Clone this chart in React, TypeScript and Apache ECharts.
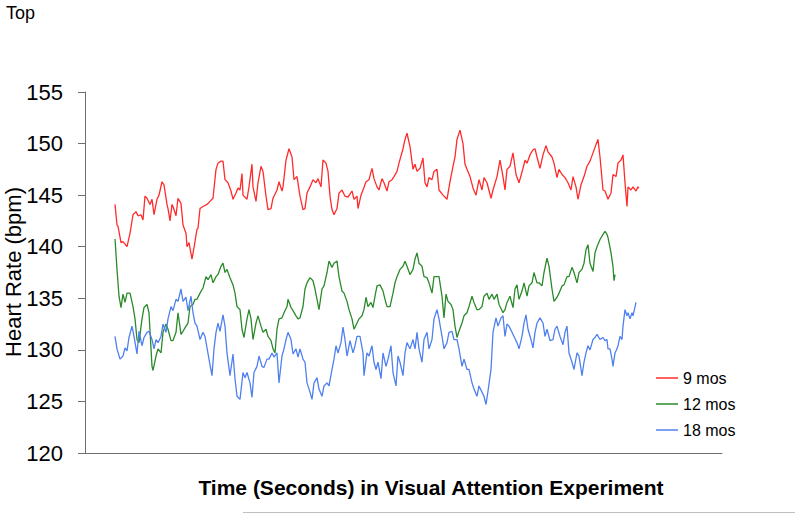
import React, { useEffect, useRef } from "react";
import * as echarts from "echarts";

// Time position (arbitrary seconds units along the experiment)
const t9 = [30,32,33,36,38,42,45,48,51,53,56,58,60,62,65,67,69,72,74,77,79,82,83,85,87,88,91,93,96,98,101,102,104,107,109,112,113,
  115,118,122,125,128,131,133,136,138,140,143,146,148,151,153,155,157,158,162,164,167,168,171,173,176,178,181,183,186,188,192,194,197,198,201,204,207,209,212,
  215,218,220,222,225,228,231,233,236,238,241,243,245,247,249,252,254,257,260,263,267,269,272,273,276,278,281,284,287,289,292,294,297,299,302,304,307,309,312,314,
  318,320,322,325,328,330,332,335,338,340,342,344,347,349,352,354,358,362,365,368,370,372,375,378,380,382,385,388,391,394,397,399,402,406,408,412,
  415,418,420,422,425,428,431,434,438,440,442,445,448,450,452,455,458,461,463,467,469,472,474,477,480,483,486,488,491,493,496,499,502,
  505,508,511,513,515,518,520,523,526,528,531,533,536,538,540,542,543,546,548,551,553,554];
const hr9 = [144.1,142.1,142,140.4,140.5,140.0,141.3,143.1,143.4,143,143.1,142.6,144.9,144.7,144.1,144.6,143.1,144.6,145.0,146.3,146.0,144.1,143.7,142.5,144.1,143.9,143,144.7,144.2,142.1,141.3,140.0,140.4,138.8,139.9,141.7,141.8,
  143.7,143.9,144.1,144.4,144.7,147.5,148.1,148.3,148.3,146.5,146.2,145.4,144.6,145.2,145.7,145.5,147.1,145,144.6,145.8,148.0,145.8,144.4,146.2,147.8,147.3,144.9,143.6,143.7,144.7,145.5,146.3,145.4,145.8,148.4,149.5,148.7,146.5,146.8,
  144.9,143.6,143.7,145.2,145.8,146.5,146.2,146.6,145.8,148.4,148.1,147.3,144.9,143.6,143.1,143.7,145.2,145.5,144.9,144.8,145.4,144.6,144.9,143.7,145.0,145.5,146.3,146.5,147.6,146.6,145.8,145.5,146.6,146.2,145.4,146.3,146.5,146.8,147.3,148.1,
  149.5,150.4,151.0,149.7,147.5,148.0,147.3,147.6,148.6,146.2,145.8,146.7,146.5,147.3,147.5,145.5,145.0,144.6,146.3,147.8,148.7,150.4,151.3,150.0,148.0,147.5,146.8,145.7,145.0,146.5,145.5,146.7,146.2,144.7,145.5,146.8,
  148.4,146.8,145.5,147.5,147.8,149.1,147.0,146.2,147.6,148.4,148.1,148.9,149.4,149.5,148.7,147.6,148.9,149.8,149.2,148.7,148.1,146.7,147.5,147.0,146.7,146.2,145.5,146.8,145.8,144.6,146.0,146.8,147.8,
  148.3,149.1,149.9,150.4,148.7,145.5,145.4,144.6,145.2,147.0,146.8,148.1,148.4,148.9,146.2,143.9,145.8,145.5,145.8,145.4,145.8,145.7];

const t12 = [30,32,34,36,38,40,42,45,48,50,52,54,57,59,62,64,67,68,71,73,76,78,81,83,86,88,91,93,96,98,101,103,105,108,110,112,
  115,118,121,123,126,128,131,133,136,138,140,142,145,148,150,152,155,157,159,162,164,166,168,171,173,176,178,181,183,186,188,190,192,194,197,199,202,203,206,208,211,213,
  215,218,220,222,225,228,230,232,234,237,239,242,244,247,249,252,254,257,259,262,264,267,269,272,274,277,279,281,283,286,288,290,292,295,298,300,302,305,308,310,312,
  315,318,320,322,325,328,330,332,334,337,339,342,344,347,349,352,354,357,359,361,363,366,368,370,372,374,377,379,382,384,387,389,392,394,397,399,402,404,407,409,412,414,
  418,420,422,425,428,430,432,434,437,439,442,444,447,449,452,454,457,459,462,464,467,469,472,474,477,479,482,484,487,489,492,494,497,499,501,503,
  505,508,510,512,515,518,520,522,523,526,528,529,530];
const hr12 = [140.75,137.8,135.2,134.1,135.4,134.6,135.5,135.5,134.2,133,131,130.7,133,134.1,134.4,133.6,128.4,128,129.4,130.1,129.7,131.7,132.5,132,130.9,130.9,131.7,133.6,131.5,131.8,132.3,132.6,134.2,134.4,134.9,134.9,
  135.5,136,137.1,136.8,137.3,136.5,137.1,137.3,138.1,138.4,137.5,137.8,137,136.3,135.5,134.2,133.9,132,131.2,133,133.9,133,131,132.6,133.3,132.3,131.7,132,131.3,130.9,130.1,129.7,132,133,133.1,133.6,134.2,134.9,134.1,133.8,133.3,133,
  133.1,134.2,135.9,136.5,137,136.7,135.9,134.9,133.9,135.9,136.2,137.5,138.6,138,138.4,138.6,137.1,135.7,135.5,134.7,133.9,133,132,132.6,133,133.3,133.9,135.1,134.2,134.6,134.1,135.2,136.2,136.3,135.7,134.9,134.2,134.2,135.5,136.5,137.1,
  137.8,138.1,138.6,138.1,137.3,137.8,138.8,139.4,138.4,138.1,137.1,137,136.5,135.5,137.1,137.1,137.1,135.2,133.1,135.4,134.7,134.4,133.9,132.3,131.2,131.8,132.6,133.3,133.6,134.2,135.2,134.6,133.9,133.9,134.2,135.2,135.5,134.9,135.4,134.9,135.4,134.4,
  133.6,133.9,134.6,135.2,134.1,135.9,136.3,134.9,135.7,136.5,135.2,136.2,136.5,137.5,136.5,136.5,136.2,137.5,138.9,138.1,135.9,134.7,135.1,135.5,136.2,136.3,137.1,137.1,138,137.5,136.5,137.5,137.8,138.4,139.7,140.2,
  138.4,137.6,139.4,140,140.7,141.2,141.5,141.2,140.9,139.4,138.1,136.7,137.3];

const t18 = [30,32,35,38,40,42,44,47,49,52,54,57,59,62,64,67,69,71,73,76,78,81,83,86,88,91,93,96,98,101,103,106,108,110,112,
  115,118,120,122,124,127,129,131,133,135,138,140,142,145,148,150,152,155,158,160,162,165,167,169,172,174,177,179,182,184,187,189,192,194,197,199,201,203,206,208,211,213,
  215,218,220,222,225,227,229,232,234,237,239,242,244,247,249,251,253,256,258,260,262,265,268,270,272,275,278,279,282,284,287,289,291,293,296,298,301,303,306,308,311,313,
  315,318,320,322,325,328,330,332,334,337,339,342,344,347,349,352,354,357,359,362,364,367,369,372,374,377,379,382,384,387,389,392,394,397,399,401,403,406,408,411,413,
  416,418,420,422,424,427,429,432,434,437,439,441,443,446,448,450,452,455,458,460,462,465,468,470,472,475,478,480,482,484,487,489,492,494,497,499,501,503,
  505,508,510,512,515,518,520,522,523,525,527,528,530,532,533,535,537,538,540,542,543,545,547,548,551];
const hr18 = [131.3,130.1,129.1,129.4,130.2,129.9,131.2,132.3,131.3,129.6,131.8,130.4,131.2,131.7,131.8,131,130.1,131,130.7,131.3,132.5,131.7,133,134.2,133.8,134.9,134.7,135.9,134.7,135.1,133.8,135.2,133.6,132.6,132.3,
  131,131.7,131.3,130.2,129.1,127.5,130.1,131.7,132.6,131.8,133.4,132.3,129.7,127.5,129.6,127.2,125.5,125.2,127.8,127.3,127.8,126.8,125.4,127.8,128.4,129.4,128.4,128.3,129.1,129.1,129.7,129.3,129.7,126.8,129.4,130.1,131,131.7,131,129.6,130.1,129.3,
  130.1,129.1,128.8,126.8,125.9,125.2,126.8,127.3,126.2,125.5,126.5,126.8,126.5,128.1,129.1,130.4,129.7,130.7,132.2,131,129.4,130.9,129.7,130.4,131.3,131.3,129.7,127.5,129.7,129.4,130.4,128.8,128.1,128.8,127.2,129.7,128.4,129.1,130.4,127.8,126.5,129.4,
  128.8,127.5,129.7,130.7,130.1,131,130.1,131.7,130.1,128.8,131,131.7,130.1,131,133,133.9,133,131.3,130.1,130.7,131.7,131.8,131,131,130.1,128.4,129.1,128.1,128.1,126.8,126.2,125.5,126.5,125.9,125.5,124.7,126,128.1,131.7,133.1,132.3,
  133.1,133.3,131.3,132.5,132.3,131.7,131.3,130.7,130.1,131.3,132.6,133.4,132,131,130.2,131.7,132.6,133.1,132.6,131.3,132,130.9,131,132,132.3,131.3,130.5,131.7,132.3,129.7,128.8,128.1,129.7,129.4,127.5,128.8,129.7,130.4,
  130,131,131.2,131.5,131,131.2,130.9,131,130.1,130.1,129.1,128.4,129.7,130.1,130.4,131.3,131,132.3,133.9,133.3,133.6,133,133.6,133.3,134.6];

const seriesNames = ["9 mos", "12 mos", "18 mos"];
const seriesColors = ["#ff2b2b", "#2a8a2a", "#4f80f0"];
const yTicks = { min: 120, max: 155, interval: 5 };

const zip = (t: number[], v: number[]) => t.map((x, i) => [x, v[i]]);
const FONT = "Liberation Sans, Arial, sans-serif";

export default function App() {
  const ref = useRef<HTMLDivElement>(null);
  useEffect(() => {
    document.body.style.margin = "0";
    const chart = echarts.init(ref.current!, undefined, { renderer: "svg" });
    const data = [zip(t9, hr9), zip(t12, hr12), zip(t18, hr18)];
    chart.setOption({
      animation: false,
      backgroundColor: "#ffffff",
      textStyle: { fontFamily: FONT },
      grid: { left: 85, right: 73, top: 92, bottom: 61, containLabel: false },
      xAxis: {
        type: "value",
        min: 0,
        max: 637,
        axisLine: { show: true, lineStyle: { color: "#6e6e6e", width: 1 } },
        axisTick: { show: false },
        axisLabel: { show: false },
        splitLine: { show: false },
      },
      yAxis: {
        type: "value",
        min: yTicks.min,
        max: yTicks.max,
        interval: yTicks.interval,
        axisLine: { show: true, lineStyle: { color: "#6e6e6e", width: 1 } },
        axisTick: { show: true, length: 7, lineStyle: { color: "#6e6e6e" } },
        axisLabel: { color: "#000", fontSize: 22, margin: 22, fontFamily: FONT },
        splitLine: { show: false },
      },
      legend: {
        orient: "vertical",
        left: 651,
        top: 365,
        icon: "rect",
        itemWidth: 22,
        itemHeight: 1.5,
        itemGap: 10,
        textStyle: { color: "#000", fontSize: 16, lineHeight: 16, fontFamily: FONT },
        data: seriesNames,
      },
      series: seriesNames.map((name, i) => ({
        name,
        type: "line",
        data: data[i],
        symbol: "none",
        showSymbol: false,
        color: seriesColors[i],
        lineStyle: { color: seriesColors[i], width: 1.3 },
      })),
      graphic: [
        {
          type: "text",
          left: 6,
          top: 4,
          style: { text: "Top", fontSize: 18, fill: "#000", fontFamily: FONT },
        },
        {
          type: "text",
          x: 13,
          y: 272,
          rotation: Math.PI / 2,
          style: {
            text: "Heart Rate (bpm)",
            fontSize: 22,
            fill: "#000",
            align: "center",
            verticalAlign: "middle",
            fontFamily: FONT,
          },
        },
        {
          type: "text",
          x: 431,
          y: 487,
          style: {
            text: "Time (Seconds) in Visual Attention Experiment",
            fontSize: 21,
            fontWeight: "bold",
            fill: "#000",
            align: "center",
            verticalAlign: "middle",
            fontFamily: FONT,
          },
        },
        {
          type: "line",
          shape: { x1: 243, y1: 512.5, x2: 795, y2: 512.5 },
          style: { stroke: "#c0c0c0", lineWidth: 1 },
        },
      ],
    });
    return () => chart.dispose();
  }, []);
  return <div ref={ref} style={{ position: "fixed", left: 0, top: 0, width: 795, height: 514 }} />;
}
